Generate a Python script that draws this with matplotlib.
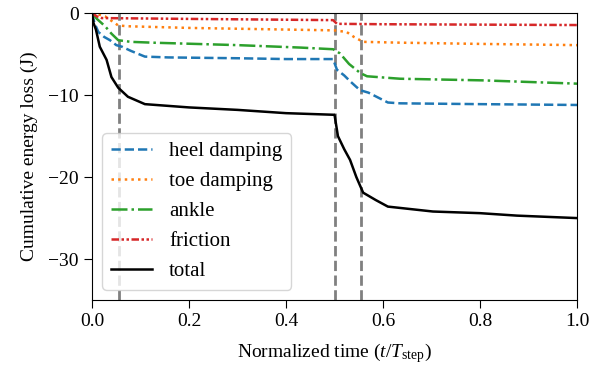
import matplotlib
matplotlib.use("Agg")
import matplotlib.pyplot as plt

plt.rcParams['font.family'] = 'serif'
plt.rcParams['font.serif'] = ['Liberation Serif', 'DejaVu Serif']
plt.rcParams['mathtext.fontset'] = 'custom'
plt.rcParams['mathtext.rm'] = 'Liberation Serif'
plt.rcParams['mathtext.it'] = 'Liberation Serif:italic'
plt.rcParams['font.size'] = 14

# cumulative energy loss per component (J) vs normalized time
t_heel = [0, 0.005, 0.013, 0.025, 0.037, 0.05, 0.062, 0.08, 0.109, 0.157, 0.3, 0.4, 0.497,
          0.505, 0.52, 0.532, 0.545, 0.553, 0.57, 0.59, 0.61, 0.635, 0.8, 1.0]
heel = [0, -1.2, -2.3, -2.9, -3.3, -3.9, -4.1, -4.6, -5.3, -5.4, -5.5, -5.6, -5.6,
        -6.9, -7.6, -8.3, -9.0, -9.4, -9.7, -10.3, -10.9, -11.0, -11.1, -11.2]

t_toe = [0, 0.01, 0.027, 0.054, 0.074, 0.2, 0.4, 0.5, 0.525, 0.54, 0.559, 0.635, 0.8, 1.0]
toe = [0, -0.1, -0.4, -1.5, -1.6, -1.8, -2.0, -2.1, -2.3, -2.9, -3.5, -3.6, -3.75, -3.9]

t_ankle = [0, 0.01, 0.027, 0.04, 0.054, 0.08, 0.124, 0.3, 0.43, 0.497, 0.511, 0.53, 0.553,
           0.567, 0.635, 0.806, 1.0]
ankle = [0, -0.7, -1.6, -2.5, -3.3, -3.5, -3.6, -3.9, -4.2, -4.4, -4.9, -6.2, -7.3,
         -7.7, -8.0, -8.2, -8.6]

t_fric = [0, 0.01, 0.02, 0.2, 0.497, 0.505, 0.6, 1.0]
fric = [0, -0.4, -0.6, -0.7, -0.85, -1.3, -1.35, -1.45]

t_total = [0, 0.003, 0.008, 0.016, 0.03, 0.04, 0.054, 0.074, 0.109, 0.2, 0.3, 0.4, 0.5,
           0.507, 0.52, 0.532, 0.545, 0.559, 0.585, 0.61, 0.703, 0.8, 0.876, 1.0]
total = [0, -1.2, -2.0, -4.1, -5.7, -7.8, -9.1, -10.2, -11.1, -11.5, -11.8, -12.2, -12.4,
         -15.0, -16.6, -17.9, -20.0, -21.9, -22.8, -23.6, -24.2, -24.4, -24.7, -25.0]

events = [0.055, 0.5, 0.555]

fig = plt.figure(figsize=(5.9, 3.76), dpi=100)
ax = fig.add_axes([0.156, 0.202, 0.822, 0.763])

for ev in events:
    ax.axvline(ev, color='gray', ls='--', lw=2)

ax.plot(t_heel, heel, color='C0', ls='--', lw=1.8, label='heel damping')
ax.plot(t_toe, toe, color='C1', ls=':', lw=1.8, label='toe damping')
ax.plot(t_ankle, ankle, color='C2', ls='-.', lw=1.8, label='ankle')
ax.plot(t_fric, fric, color='C3', ls=(0, (3, 1, 1, 1, 1, 1)), lw=1.8, label='friction')
ax.plot(t_total, total, color='k', ls='-', lw=1.8, label='total')

ax.set_xlim(0, 1)
ax.set_ylim(-35, 0)
ax.set_yticks([0, -10, -20, -30])
ax.tick_params(length=5.5, pad=4)
ax.set_xlabel(r'Normalized time ($t/T_\mathrm{step}$)', labelpad=8)
ax.set_ylabel('Cumulative energy loss (J)', labelpad=7)
ax.legend(loc='lower left', fontsize=15)

fig.savefig('out.png', dpi=100)
